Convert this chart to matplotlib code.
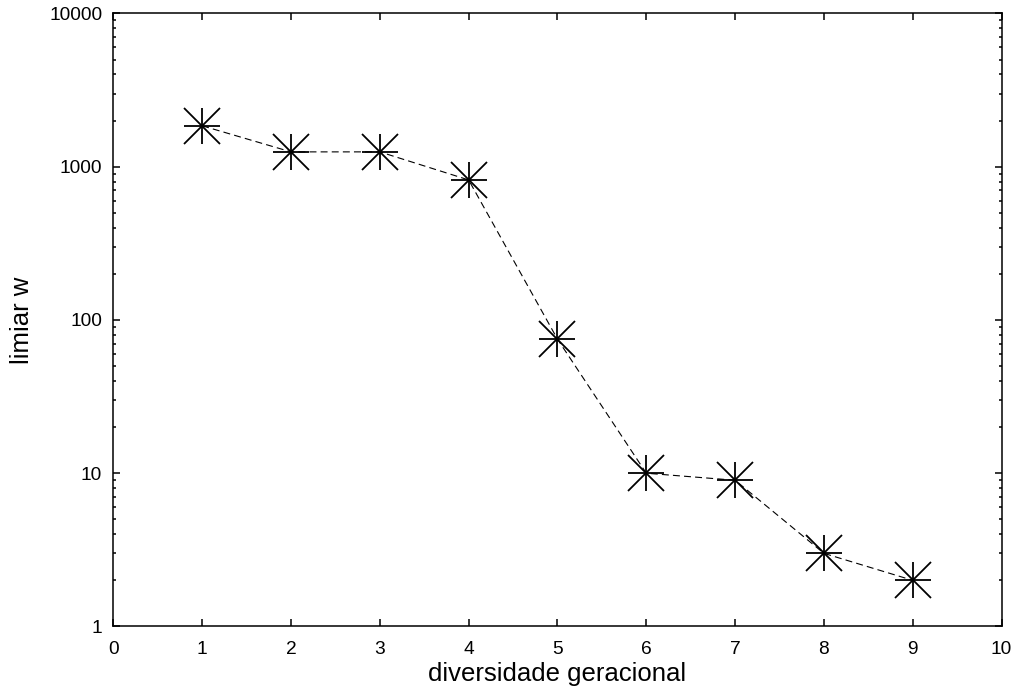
import matplotlib
matplotlib.use("Agg")
import matplotlib.pyplot as plt
from matplotlib.ticker import LogLocator, FixedLocator, NullFormatter

plt.rcParams["font.family"] = ["Liberation Sans", "DejaVu Sans"]
plt.rcParams["lines.scale_dashes"] = False

diversidade = [1, 2, 3, 4, 5, 6, 7, 8, 9]
limiar = [1850, 1250, 1250, 820, 75, 10, 9, 3, 2]

x_ticks = [0, 1, 2, 3, 4, 5, 6, 7, 8, 9, 10]
y_ticks = [1, 10, 100, 1000, 10000]
y_ticklabels = ["1", "10", "100", "1000", "10000"]


def main():
    fig = plt.figure(figsize=(10.21, 6.95), dpi=100)
    ax = fig.add_axes([0.111, 0.0986, 0.870, 0.882])

    # dashed connecting line, then the gnuplot-style asterisk (+ and x)
    ax.plot(diversidade, limiar, color="black", lw=0.8, dashes=(5, 3))
    ax.plot(diversidade, limiar, ls="none", marker="+", ms=26, mew=1.3, color="black")
    ax.plot(diversidade, limiar, ls="none", marker="x", ms=26, mew=1.3, color="black")

    ax.set_yscale("log")
    ax.set_xlim(0, 10)
    ax.set_ylim(1, 10000)

    ax.xaxis.set_major_locator(FixedLocator(x_ticks))
    ax.set_xticklabels([str(t) for t in x_ticks])
    ax.yaxis.set_major_locator(FixedLocator(y_ticks))
    ax.set_yticklabels(y_ticklabels)
    ax.yaxis.set_minor_locator(LogLocator(base=10, subs=range(2, 10)))
    ax.yaxis.set_minor_formatter(NullFormatter())

    ax.tick_params(which="both", direction="in", top=True, right=True,
                   labelsize=13.8, width=1.1)
    ax.tick_params(axis="x", which="major", length=5, pad=10.5)
    ax.tick_params(axis="y", which="major", length=5, pad=8)
    ax.tick_params(axis="y", which="minor", length=2.5)
    for spine in ax.spines.values():
        spine.set_linewidth(1.1)

    ax.set_xlabel("diversidade geracional", fontsize=18.5, labelpad=3)
    ax.set_ylabel("limiar w", fontsize=18.5, labelpad=11)

    fig.savefig("out.png", dpi=100)


if __name__ == "__main__":
    main()
